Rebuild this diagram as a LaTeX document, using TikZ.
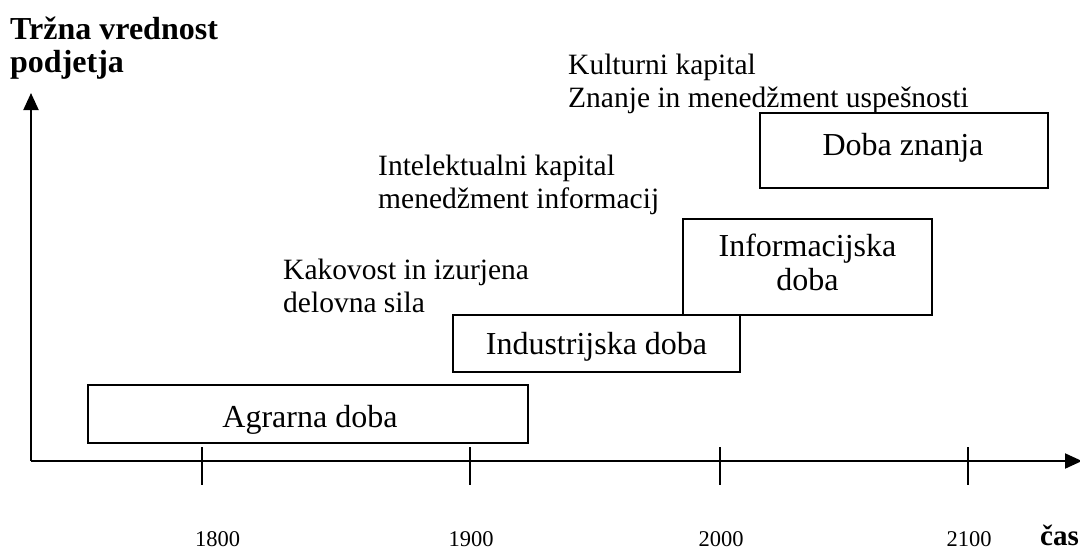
\documentclass[tikz,border=0pt]{standalone}
\usepackage{fontspec}
\setmainfont{Liberation Serif}
\usetikzlibrary{arrows.meta}
\begin{document}
\begin{tikzpicture}[x=1pt,y=-1pt,
  era/.style={draw,line width=2pt,inner sep=0pt},
  eratext/.style={anchor=base,align=center,inner sep=0pt,font=\fontsize{32}{34}\selectfont},
  note/.style={anchor=base west,align=left,inner sep=0pt,font=\fontsize{29.5}{33}\selectfont},
  year/.style={anchor=base,inner sep=0pt,font=\fontsize{22.5}{25}\selectfont},
  axislabel/.style={anchor=base west,align=left,inner sep=0pt,font=\bfseries\fontsize{32}{33}\selectfont},
  axis/.style={line width=2pt,-{Triangle[length=17pt,width=15pt]}},
  tick/.style={line width=2pt}]
\useasboundingbox (0,0) rectangle (1080,550);

% axes
\coordinate (origin) at (31,461);
\coordinate (ytop) at (31,93);
\coordinate (xend) at (1082,461);
\draw[axis] (origin) -- (ytop);
\draw[axis] (origin) -- (xend);

% ticks
\foreach \n/\x in {a/202,b/470,c/720,d/968}{
  \coordinate (t\n1) at (\x,447);
  \coordinate (t\n2) at (\x,485);
  \draw[tick] (t\n1) -- (t\n2);
}

% year labels
\node[year] (y1800) at (217.5,546) {1800};
\node[year] (y1900) at (471,546) {1900};
\node[year] (y2000) at (721,546) {2000};
\node[year] (y2100) at (969,546) {2100};
\node[axislabel,font=\bfseries\fontsize{29}{33}\selectfont] (cas) at (1040,545) {čas};

% axis title
\node[axislabel] (title) at (10,72) {Tržna vrednost\\podjetja};

% eras
\node[era,minimum width=440pt,minimum height=58pt] (agr) at (308,414) {};
\node[era,minimum width=287pt,minimum height=57pt] (ind) at (596.5,343.5) {};
\node[era,minimum width=249pt,minimum height=96pt] (inf) at (807.5,266.5) {};
\node[era,minimum width=288pt,minimum height=75pt] (zna) at (904,150.5) {};
\node[eratext] (agrt) at (310,427) {Agrarna doba};
\node[eratext] (indt) at (596.5,354) {Industrijska doba};
\node[eratext] (inft) at (807.5,290.7) {Informacijska\\doba};
\node[eratext] (znat) at (903,155) {Doba znanja};

% characteristics of each era
\node[note] (n1) at (283,312) {Kakovost in izurjena\\delovna sila};
\node[note] (n2) at (378,208) {Intelektualni kapital\\menedžment informacij};
\node[note] (n3) at (568,107) {Kulturni kapital\\Znanje in menedžment uspešnosti};
\end{tikzpicture}
\end{document}
